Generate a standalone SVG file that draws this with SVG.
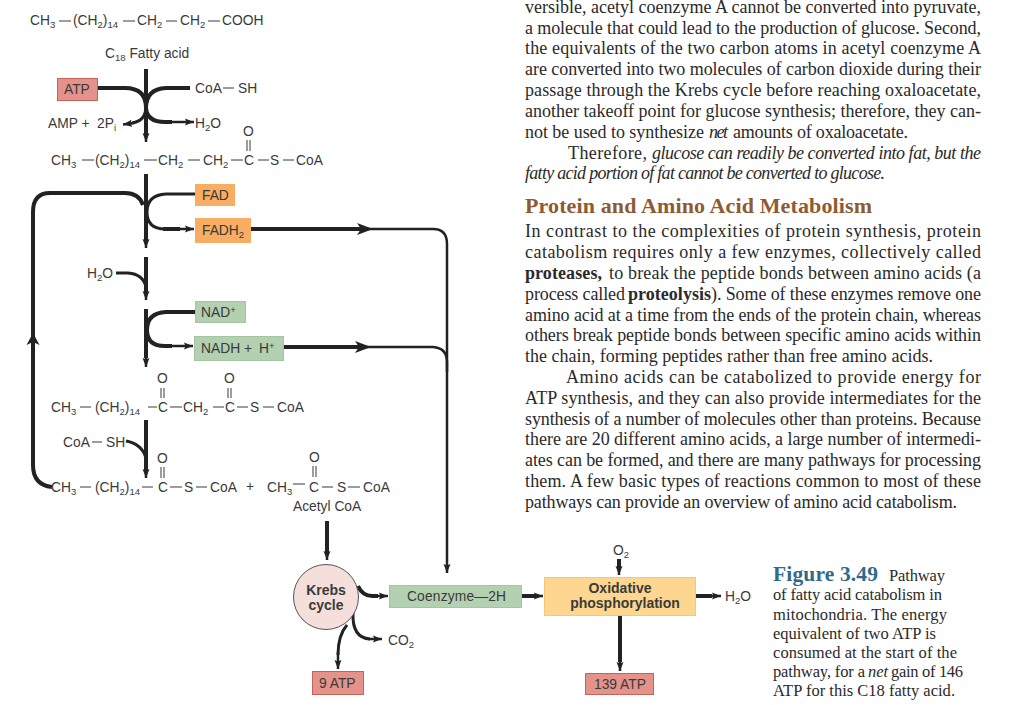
<svg xmlns="http://www.w3.org/2000/svg" width="1024" height="705" viewBox="0 0 1024 705">
<style>
.c{font-family:"Liberation Sans",Arial,sans-serif;font-size:13.800px;fill:#3a3a3a}
.s{font-size:9.500px}
.b{font-family:"Liberation Sans",Arial,sans-serif;font-size:14px;font-weight:bold;fill:#3a3a3a;text-anchor:middle}
.p{font-family:"Liberation Serif","Times New Roman",serif;font-size:18px;fill:#2a2a2a}
.pb{font-weight:bold}
.pi{font-style:italic}
.k{font-family:"Liberation Serif","Times New Roman",serif;font-size:16.500px;fill:#2a2a2a}
.d{stroke:#3a3a3a;stroke-width:1;fill:none}
.red{fill:#e5928a;stroke:#c4625c;stroke-width:1}
.org{fill:#f9ad62}
.grn{fill:#b3d0b0;stroke:#a4c4a2;stroke-width:1}
.w{fill:none;stroke:#222;stroke-width:4}
.m{fill:none;stroke:#222;stroke-width:3}
.t{fill:none;stroke:#222;stroke-width:2.500}
</style>
<defs>
<marker id="h" markerUnits="userSpaceOnUse" markerWidth="12" markerHeight="10" refX="9" refY="5" orient="auto"><path d="M0,1.500 L9,5 L0,8.500 L1.500,5z" fill="#222"/></marker>
</defs>
<rect width="1024" height="705" fill="#fff"/>

<g id="connectors">
<path class="w" d="M146,69V136"/><path class="t" d="M146,132V142" marker-end="url(#h)"/>
<path class="w" d="M97,88H125Q146,88 146,108"/><path class="m" d="M146,106Q146,121 132,123"/><path class="t" d="M134,123L123,124.500" marker-end="url(#h)"/>
<path class="w" d="M190,88H166Q146,89 146,108Q147,122 165,122H172"/><path class="t" d="M170,122H194" marker-end="url(#h)"/>
<path class="w" d="M146,174V240"/><path class="t" d="M146,238V248" marker-end="url(#h)"/>
<path class="m" d="M195,194H166Q147,195 147,212Q147,229 165,229"/><path class="w" d="M163,229H180"/><path class="t" d="M178,229H194" marker-end="url(#h)"/>
<path class="w" d="M143,205Q139,193 125,193H50Q33,193 33,212V465Q33,485 52,487"/>
<path fill="#222" d="M33,333L39.500,345L33,342L26.500,345z"/>
<path class="w" d="M251,229H362"/><path fill="#222" d="M373,229L357,223L361,229L357,235z"/>
<path class="t" d="M365,229H433Q447,229 447,244V573" marker-end="url(#h)"/>
<path class="w" d="M146,257V292"/><path class="t" d="M146,290V300" marker-end="url(#h)"/>
<path class="m" d="M116,273H128Q143,274 146,287"/>
<path class="w" d="M146,309V358"/><path class="t" d="M146,356V367" marker-end="url(#h)"/>
<path class="w" d="M195,312H166Q147,313 147,330Q147,346 165,346H172"/><path class="t" d="M170,346H193" marker-end="url(#h)"/>
<path class="w" d="M284,347H360"/><path fill="#222" d="M371,347L355,341L359,347L355,353z"/>
<path class="t" d="M365,347H433Q447,348 447,362V372"/>
<path class="w" d="M146,420V470"/><path class="t" d="M146,468V478" marker-end="url(#h)"/>
<path class="m" d="M126,441Q142,444 146,458"/>
<path class="w" d="M327,521V552"/><path class="t" d="M327,550V560" marker-end="url(#h)"/>
<path class="w" d="M358,586Q363,597 374,596H378"/><path class="t" d="M376,596H388" marker-end="url(#h)"/>
<path class="w" d="M522,596H535"/><path class="t" d="M533,596H543" marker-end="url(#h)"/>
<path class="w" d="M619,559V567"/><path class="t" d="M619,565V575" marker-end="url(#h)"/>
<path class="w" d="M696,596H712"/><path class="t" d="M710,596H721" marker-end="url(#h)"/>
<path class="w" d="M620,616V662"/><path class="t" d="M620,660V671" marker-end="url(#h)"/>
<path class="m" d="M347,625Q338,635 338,655"/><path class="t" d="M338,652V669" marker-end="url(#h)"/>
<path class="m" d="M353,613Q352,638 370,639"/><path class="t" d="M368,639H382" marker-end="url(#h)"/>
</g>

<g id="fatty-acid">
<text class="c" x="30" y="25">CH<tspan class="s" dy="3">3</tspan></text><path class="d" d="M59,21H71M123,21H135M166,21H177M208,21H220"/>
<text class="c" x="73" y="25">(CH<tspan class="s" dy="3">2</tspan><tspan dy="-3">)</tspan><tspan class="s" dy="3">14</tspan></text>
<text class="c" x="137" y="25">CH<tspan class="s" dy="3">2</tspan></text>
<text class="c" x="180" y="25">CH<tspan class="s" dy="3">2</tspan></text>
<text class="c" x="222" y="25">COOH</text>
<text class="c" x="105" y="58">C<tspan class="s" dy="3">18</tspan><tspan dy="-3"> Fatty acid</tspan></text>
</g>
<g id="atp"><rect class="red" x="57.500" y="78.500" width="40" height="22"/><text class="c" x="64" y="94">ATP</text></g>
<g id="coa-sh-1"><text class="c" x="195" y="93">CoA</text><path class="d" d="M223,88H234"/><text class="c" x="238" y="93">SH</text></g>
<g id="amp"><text class="c" x="48" y="128">AMP +</text><text class="c" x="97" y="128">2P<tspan class="s" dy="3">i</tspan></text></g>
<g id="h2o-1"><text class="c" x="195" y="128">H<tspan class="s" dy="3">2</tspan><tspan dy="-3">O</tspan></text></g>
<g id="acyl-coa">
<text class="c" x="243" y="136">O</text><path class="d" d="M247,140V151M250,140V151"/>
<text class="c" x="51" y="165">CH<tspan class="s" dy="3">3</tspan></text>
<text class="c" x="95" y="165">(CH<tspan class="s" dy="3">2</tspan><tspan dy="-3">)</tspan><tspan class="s" dy="3">14</tspan></text>
<text class="c" x="158" y="165">CH<tspan class="s" dy="3">2</tspan></text>
<text class="c" x="203" y="165">CH<tspan class="s" dy="3">2</tspan></text>
<text class="c" x="244" y="165">C</text><text class="c" x="270" y="165">S</text><text class="c" x="296" y="165">CoA</text>
<path class="d" d="M82,160H94M144,160H157M188,160H200M231,160H243M258,160H269M283,160H294"/>
</g>
<g id="fad"><rect class="org" x="195" y="184" width="40" height="22"/><text class="c" x="202" y="200">FAD</text></g>
<g id="fadh2"><rect class="org" x="195" y="218" width="56" height="25"/><text class="c" x="202" y="235">FADH<tspan class="s" dy="3">2</tspan></text></g>
<g id="h2o-2"><text class="c" x="87" y="278">H<tspan class="s" dy="3">2</tspan><tspan dy="-3">O</tspan></text></g>
<g id="nad"><rect class="grn" x="195.500" y="301.500" width="50" height="21"/><text class="c" x="201" y="317">NAD<tspan class="s" dy="-4">+</tspan></text></g>
<g id="nadh"><rect class="grn" x="194.500" y="336.500" width="89" height="24"/><text class="c" x="201" y="353">NADH +</text><text class="c" x="259" y="353">H<tspan class="s" dy="-4">+</tspan></text></g>
<g id="ketoacyl-coa">
<text class="c" x="157" y="383">O</text><path class="d" d="M161,388V398M164,388V398"/>
<text class="c" x="224" y="383">O</text><path class="d" d="M228,388V398M231,388V398"/>
<text class="c" x="51" y="412">CH<tspan class="s" dy="3">3</tspan></text>
<text class="c" x="95" y="412">(CH<tspan class="s" dy="3">2</tspan><tspan dy="-3">)</tspan><tspan class="s" dy="3">14</tspan></text>
<text class="c" x="158" y="412">C</text><text class="c" x="183" y="412">CH<tspan class="s" dy="3">2</tspan></text>
<text class="c" x="225" y="412">C</text><text class="c" x="250" y="412">S</text><text class="c" x="277" y="412">CoA</text>
<path class="d" d="M80,407H91M148,407H157M170,407H182M213,407H224M237,407H248M263,407H274"/>
</g>
<g id="coa-sh-2"><text class="c" x="63" y="447">CoA</text><path class="d" d="M92,442H102"/><text class="c" x="106" y="447">SH</text></g>
<g id="products">
<text class="c" x="157" y="463">O</text><path class="d" d="M161,467V478M164,467V478"/>
<text class="c" x="51" y="492">CH<tspan class="s" dy="3">3</tspan></text>
<text class="c" x="95" y="492">(CH<tspan class="s" dy="3">2</tspan><tspan dy="-3">)</tspan><tspan class="s" dy="3">14</tspan></text>
<text class="c" x="158" y="492">C</text><text class="c" x="184" y="492">S</text><text class="c" x="210" y="492">CoA</text>
<text class="c" x="246" y="491">+</text>
<path class="d" d="M80,487H91M142,487H153M170,487H182M196,487H207"/>
</g>
<g id="acetyl-coa">
<text class="c" x="309" y="462">O</text><path class="d" d="M313,466V477M316,466V477"/>
<text class="c" x="267" y="492">CH<tspan class="s" dy="3">3</tspan></text>
<text class="c" x="309" y="492">C</text><text class="c" x="337" y="492">S</text><text class="c" x="363" y="492">CoA</text>
<path class="d" d="M293,484H305M322,487H333M348,487H360"/>
<text class="c" x="293" y="511">Acetyl CoA</text>
</g>
<g id="krebs"><circle cx="326" cy="597" r="32.500" fill="#f4dfda" stroke="#555" stroke-width="1"/><text class="b" x="326" y="595">Krebs</text><text class="b" x="326" y="610">cycle</text></g>
<g id="coenzyme"><rect class="grn" x="389.500" y="585.500" width="132" height="22"/><text class="c" x="407" y="601" textLength="99" lengthAdjust="spacing">Coenzyme—2H</text></g>
<g id="oxphos"><rect x="544.500" y="577.500" width="151" height="38" fill="#fdd68f" stroke="#f5c878"/><text class="b" x="620" y="593">Oxidative</text><text class="b" x="625" y="608">phosphorylation</text></g>
<g id="o2"><text class="c" x="613" y="555">O<tspan class="s" dy="3">2</tspan></text></g>
<g id="h2o-3"><text class="c" x="725" y="601">H<tspan class="s" dy="3">2</tspan><tspan dy="-3">O</tspan></text></g>
<g id="co2"><text class="c" x="388" y="645">CO<tspan class="s" dy="3">2</tspan></text></g>
<g id="atp-9"><rect class="red" x="312.500" y="671.500" width="51" height="23"/><text class="c" x="319" y="688">9 ATP</text></g>
<g id="atp-139"><rect class="red" x="585.500" y="673.500" width="68" height="21"/><text class="c" x="594" y="689">139 ATP</text></g>

<g id="body-text">
<text class="p" x="525" y="13" textLength="456" lengthAdjust="spacing">versible, acetyl coenzyme A cannot be converted into pyruvate,</text>
<text class="p" x="525" y="33.500" textLength="456" lengthAdjust="spacing">a molecule that could lead to the production of glucose. Second,</text>
<text class="p" x="525" y="54" textLength="456" lengthAdjust="spacing">the equivalents of the two carbon atoms in acetyl coenzyme A</text>
<text class="p" x="525" y="75" textLength="456" lengthAdjust="spacing">are converted into two molecules of carbon dioxide during their</text>
<text class="p" x="525" y="96" textLength="456" lengthAdjust="spacing">passage through the Krebs cycle before reaching oxaloacetate,</text>
<text class="p" x="525" y="117" textLength="456" lengthAdjust="spacing">another takeoff point for glucose synthesis; therefore, they can-</text>
<text class="p" x="525" y="137.500" textLength="179" lengthAdjust="spacing">not be used to synthesize</text>
<text class="p pi" x="709" y="137.500" textLength="19" lengthAdjust="spacing">net</text>
<text class="p" x="733" y="137.500" textLength="175" lengthAdjust="spacing">amounts of oxaloacetate.</text>
<text class="p" x="568" y="158.500" textLength="79" lengthAdjust="spacing">Therefore,</text>
<text class="p pi" x="652" y="158.500" textLength="329" lengthAdjust="spacing">glucose can readily be converted into fat, but the</text>
<text class="p pi" x="525" y="179" textLength="360" lengthAdjust="spacing">fatty acid portion of fat cannot be converted to glucose.</text>
<text x="525" y="213" font-family="Liberation Serif, serif" font-size="22" font-weight="bold" fill="#8f5a33" textLength="347" lengthAdjust="spacing">Protein and Amino Acid Metabolism</text>
<text class="p" x="525" y="237" textLength="456" lengthAdjust="spacing">In contrast to the complexities of protein synthesis, protein</text>
<text class="p" x="525" y="258" textLength="456" lengthAdjust="spacing">catabolism requires only a few enzymes, collectively called</text>
<text class="p pb" x="525" y="279" textLength="77" lengthAdjust="spacing">proteases,</text>
<text class="p" x="609" y="279" textLength="372" lengthAdjust="spacing">to break the peptide bonds between amino acids (a</text>
<text class="p" x="525" y="299.500" textLength="100" lengthAdjust="spacing">process called</text>
<text class="p pb" x="628" y="299.500" textLength="83" lengthAdjust="spacing">proteolysis</text>
<text class="p" x="711" y="299.500" textLength="270" lengthAdjust="spacing">). Some of these enzymes remove one</text>
<text class="p" x="525" y="320.500" textLength="456" lengthAdjust="spacing">amino acid at a time from the ends of the protein chain, whereas</text>
<text class="p" x="525" y="341" textLength="456" lengthAdjust="spacing">others break peptide bonds between specific amino acids within</text>
<text class="p" x="525" y="362" textLength="408" lengthAdjust="spacing">the chain, forming peptides rather than free amino acids.</text>
<text class="p" x="566" y="383" textLength="415" lengthAdjust="spacing">Amino acids can be catabolized to provide energy for</text>
<text class="p" x="525" y="403.500" textLength="456" lengthAdjust="spacing">ATP synthesis, and they can also provide intermediates for the</text>
<text class="p" x="525" y="424.500" textLength="456" lengthAdjust="spacing">synthesis of a number of molecules other than proteins. Because</text>
<text class="p" x="525" y="445" textLength="456" lengthAdjust="spacing">there are 20 different amino acids, a large number of intermedi-</text>
<text class="p" x="525" y="466" textLength="456" lengthAdjust="spacing">ates can be formed, and there are many pathways for processing</text>
<text class="p" x="525" y="487" textLength="456" lengthAdjust="spacing">them. A few basic types of reactions common to most of these</text>
<text class="p" x="525" y="507.500" textLength="432" lengthAdjust="spacing">pathways can provide an overview of amino acid catabolism.</text>
</g>
<g id="caption">
<text x="773" y="581" font-family="Liberation Serif, serif" font-size="21.500" font-weight="bold" fill="#2f6a8c" textLength="105" lengthAdjust="spacing">Figure 3.49</text>
<text class="k" x="889" y="581" textLength="56" lengthAdjust="spacing">Pathway</text>
<text class="k" x="773" y="600" textLength="169" lengthAdjust="spacing">of fatty acid catabolism in</text>
<text class="k" x="773" y="619.500" textLength="174" lengthAdjust="spacing">mitochondria. The energy</text>
<text class="k" x="773" y="638.500" textLength="163" lengthAdjust="spacing">equivalent of two ATP is</text>
<text class="k" x="773" y="658" textLength="184" lengthAdjust="spacing">consumed at the start of the</text>
<text class="k" x="773" y="677" textLength="92" lengthAdjust="spacing">pathway, for a</text>
<text class="k pi" x="868" y="677" textLength="20" lengthAdjust="spacing">net</text>
<text class="k" x="891" y="677" textLength="72" lengthAdjust="spacing">gain of 146</text>
<text class="k" x="773" y="696" textLength="182" lengthAdjust="spacing">ATP for this C18 fatty acid.</text>
</g>
</svg>
